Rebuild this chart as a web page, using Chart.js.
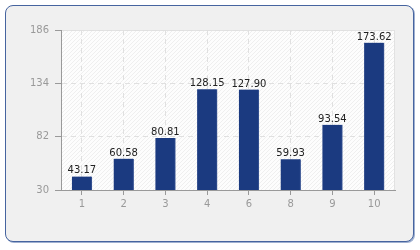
<!DOCTYPE html>
<html>
<head>
<meta charset="utf-8">
<script src="https://cdn.jsdelivr.net/npm/chart.js@4"></script>
<style>
  html, body { margin: 0; padding: 0; background: #fff; }
  #frame {
    position: absolute; left: 5px; top: 5px; width: 407px; height: 235px;
    border: 1px solid #46649f; border-radius: 8px; background: #f0f0f0;
    box-shadow: 1px 1px 0 #9fb0d0;
  }
  #wrap { position: absolute; left: 0; top: 0; width: 420px; height: 250px; }
</style>
</head>
<body>
<div id="frame"></div>
<div id="wrap"><canvas id="chart" width="420" height="250"></canvas></div>
<script>
// categories and values
const categories = ['1', '2', '3', '4', '6', '8', '9', '10'];
const values = [43.17, 60.58, 80.81, 128.15, 127.90, 59.93, 93.54, 173.62];
const yTicks = [30, 82, 134, 186];

// hatched white plot background
const plotBg = {
  id: 'plotBg',
  beforeDraw(chart) {
    const { ctx, chartArea: a } = chart;
    ctx.save();
    ctx.fillStyle = '#fdfdfd';
    ctx.fillRect(a.left, a.top, a.right - a.left, a.bottom - a.top);
    ctx.beginPath();
    ctx.rect(a.left, a.top, a.right - a.left, a.bottom - a.top);
    ctx.clip();
    ctx.strokeStyle = '#efefef';
    ctx.lineWidth = 1;
    const h = a.bottom - a.top;
    for (let x = a.left - h; x < a.right; x += 4) {
      ctx.beginPath();
      ctx.moveTo(x, a.bottom);
      ctx.lineTo(x + h, a.top);
      ctx.stroke();
    }
    ctx.restore();
    ctx.save();
    ctx.strokeStyle = '#e2e2e2';
    ctx.strokeRect(a.left + 0.5, a.top + 0.5, a.right - a.left - 1, a.bottom - a.top);
    ctx.restore();
  }
};

// value labels above bars
const valueLabels = {
  id: 'valueLabels',
  afterDatasetsDraw(chart) {
    const { ctx } = chart;
    const meta = chart.getDatasetMeta(0);
    ctx.save();
    ctx.font = '10px "DejaVu Sans"';
    ctx.fillStyle = '#222';
    ctx.textAlign = 'center';
    ctx.textBaseline = 'alphabetic';
    meta.data.forEach((bar, i) => {
      ctx.fillText(values[i].toFixed(2), bar.x, bar.y - 3);
    });
    ctx.restore();
  }
};

new Chart(document.getElementById('chart'), {
  type: 'bar',
  data: {
    labels: categories,
    datasets: [{
      data: values,
      backgroundColor: '#1b3a80',
      borderColor: '#3a5594',
      borderWidth: { right: 1 },
      borderSkipped: false,
      barThickness: 20
    }]
  },
  options: {
    responsive: false,
    animation: false,
    layout: { padding: { top: 30, right: 25, left: 0, bottom: 0 } },
    plugins: { legend: { display: false }, tooltip: { enabled: false } },
    scales: {
      x: {
        afterFit(s) { s.height = 60; },
        grid: {
          color: '#e0e0e0', tickLength: 5,
          tickColor: '#999', tickBorderDash: [], offset: false
        },
        border: { color: '#999', width: 1, dash: [5, 4] },
        ticks: { color: '#999', font: { family: 'DejaVu Sans', size: 10 }, padding: 3 }
      },
      y: {
        min: 30, max: 186,
        afterFit(s) { s.width = 61; },
        afterBuildTicks(s) { s.ticks = yTicks.map(v => ({ value: v })); },
        grid: {
          color: '#e0e0e0', tickLength: 6,
          tickColor: '#999', tickBorderDash: []
        },
        border: { color: '#999', width: 1, dash: [5, 4] },
        ticks: { color: '#999', font: { family: 'DejaVu Sans', size: 10 }, padding: 6 }
      }
    }
  },
  plugins: [plotBg, valueLabels]
});
</script>
</body>
</html>
